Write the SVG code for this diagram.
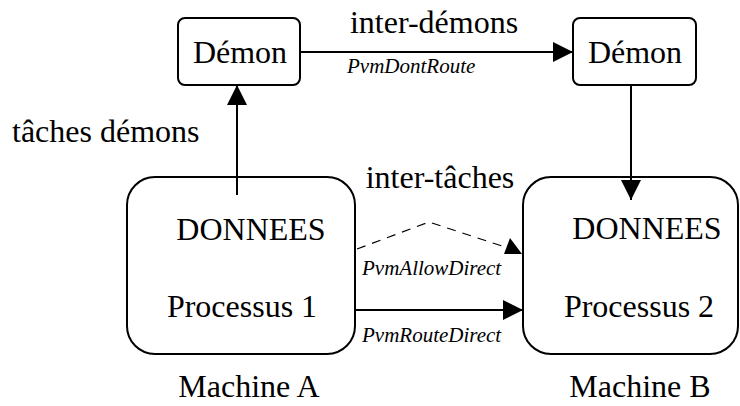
<svg xmlns="http://www.w3.org/2000/svg" width="740" height="406" viewBox="0 0 740 406">
<style>
.box{fill:#fff;stroke:#000;stroke-width:2}
.t{font-family:"Liberation Serif","Times New Roman",serif;font-size:32px;fill:#000}
.i{font-family:"Liberation Serif","Times New Roman",serif;font-size:21px;font-style:italic;fill:#000}
.ln{fill:none;stroke:#000;stroke-width:2}
.dash{fill:none;stroke:#000;stroke-width:1.2;stroke-dasharray:9 7}
</style>
<defs>
<marker id="ah" viewBox="0 0 20 20" refX="20" refY="10" markerWidth="20" markerHeight="20" markerUnits="userSpaceOnUse" orient="auto">
<path d="M0,0 L20,10 L0,20 Z" fill="#000"/>
</marker>
</defs>
<rect width="740" height="406" fill="#fff"/>
<g id="demonA">
<rect class="box" x="178" y="18" width="122" height="67" rx="7"/>
<text class="t" x="240" y="63" text-anchor="middle">Démon</text>
</g>
<g id="demonB">
<rect class="box" x="573" y="18" width="123" height="67" rx="7"/>
<text class="t" x="635" y="63" text-anchor="middle">Démon</text>
</g>
<g id="machineA">
<rect class="box" x="127" y="177" width="228" height="177" rx="28"/>
<text class="t" x="251" y="240" text-anchor="middle">DONNEES</text>
<text class="t" x="242" y="317" text-anchor="middle">Processus 1</text>
<text class="t" x="249" y="397" text-anchor="middle">Machine A</text>
</g>
<g id="machineB">
<rect class="box" x="523" y="177" width="215" height="177" rx="28"/>
<text class="t" x="647" y="239" text-anchor="middle">DONNEES</text>
<text class="t" x="639" y="317" text-anchor="middle">Processus 2</text>
<text class="t" x="640" y="397" text-anchor="middle">Machine B</text>
</g>
<g id="connectors">
<line class="ln" x1="300" y1="52" x2="573" y2="52" marker-end="url(#ah)"/>
<line class="ln" x1="237" y1="195" x2="237" y2="85" marker-end="url(#ah)"/>
<line class="ln" x1="631" y1="85" x2="631" y2="200" marker-end="url(#ah)"/>
<line class="ln" x1="355" y1="310" x2="523" y2="310" marker-end="url(#ah)"/>
<polyline class="dash" points="357,249 429,222 505,247"/>
<path d="M504,254 L522,254 L510,238 Z" fill="#000"/>
</g>
<g id="labels">
<text class="t" x="434" y="33" text-anchor="middle">inter-démons</text>
<text class="i" x="347" y="73">PvmDontRoute</text>
<text class="t" x="12" y="142">tâches démons</text>
<text class="t" x="440" y="188" text-anchor="middle">inter-tâches</text>
<text class="i" x="362" y="275">PvmAllowDirect</text>
<text class="i" x="362" y="342">PvmRouteDirect</text>
</g>
</svg>
